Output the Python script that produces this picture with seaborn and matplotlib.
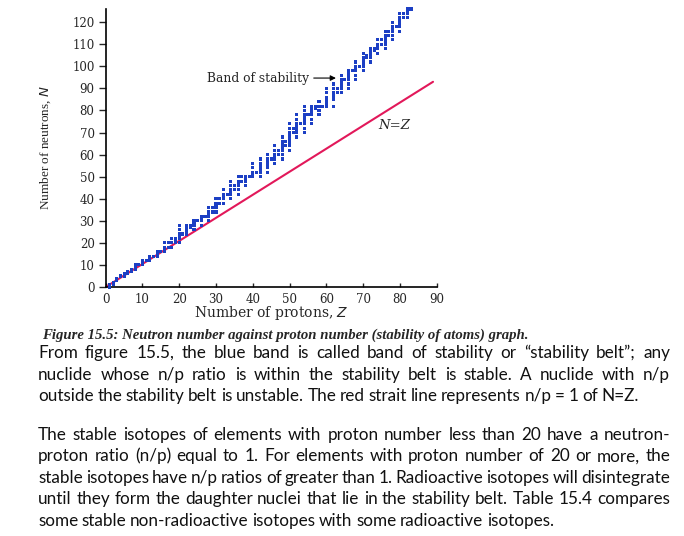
import numpy as np
import pandas as pd
import seaborn as sns
import matplotlib.pyplot as plt

# Stabile nuklider: protontall Z og nøytrontall N lest fra figuren
proton_z = list(range(1, 84))
stable_n = [
    [0, 1], [1, 2], [3, 4], [5], [5, 6], [6, 7], [7, 8], [8, 9, 10], [10], [10, 11, 12],
    [12], [12, 13, 14], [14], [14, 15, 16], [16], [16, 17, 18, 20], [18, 20], [18, 20, 22],
    [20, 21, 22], [20, 22, 23, 24, 26, 28], [24], [24, 25, 26, 27, 28], [27, 28],
    [26, 28, 29, 30], [30], [28, 30, 31, 32], [32], [30, 32, 33, 34, 36], [34, 36],
    [34, 36, 37, 38, 40], [38, 40], [38, 40, 41, 42, 44], [42], [40, 42, 43, 44, 46, 48],
    [44, 46], [42, 44, 46, 47, 48, 50], [48, 50], [46, 48, 49, 50], [50],
    [50, 51, 52, 54, 56], [52], [50, 52, 53, 54, 55, 56, 58], [],
    [52, 54, 55, 56, 57, 58, 60], [58], [56, 58, 59, 60, 62, 64], [60, 62],
    [58, 60, 62, 63, 64, 65, 66, 68], [64, 66], [62, 64, 65, 66, 67, 68, 69, 70, 72, 74],
    [70, 72], [68, 70, 71, 72, 73, 74, 76, 78], [74], [70, 72, 74, 75, 76, 77, 78, 80, 82],
    [78], [74, 76, 78, 79, 80, 81, 82], [81, 82], [78, 80, 82, 84], [82],
    [82, 83, 84, 85, 86, 88, 90], [], [82, 85, 86, 87, 88, 90, 92], [88, 90],
    [88, 90, 91, 92, 93, 94, 96], [94], [90, 92, 94, 95, 96, 97, 98], [98],
    [94, 96, 98, 99, 100, 102], [100], [98, 100, 101, 102, 103, 104, 106], [104, 105],
    [102, 104, 105, 106, 107, 108], [107, 108], [106, 108, 109, 110, 112], [110, 112],
    [108, 110, 111, 112, 113, 114, 116], [114, 116], [112, 114, 116, 117, 118, 120], [118],
    [116, 118, 119, 120, 121, 122, 124], [122, 124], [122, 124, 125, 126], [126],
]

# Linja N=Z slik den er tegnet i figuren
line_z = [0, 89]
line_n = [0, 93]

x_ticks = [0, 10, 20, 30, 40, 50, 60, 70, 80, 90]
y_ticks = [0, 10, 20, 30, 40, 50, 60, 70, 80, 90, 100, 110, 120]

caption = "Figure 15.5: Neutron number against proton number (stability of atoms) graph."
para1 = [
    "From figure 15.5, the blue band is called band of stability or \u201cstability belt\u201d; any",
    "nuclide whose n/p ratio is within the stability belt is stable. A nuclide with n/p",
    "outside the stability belt is unstable. The red strait line represents n/p = 1 of N=Z.",
]
para2 = [
    "The stable isotopes of elements with proton number less than 20 have a neutron-",
    "proton ratio (n/p) equal to 1. For elements with proton number of 20 or more, the",
    "stable isotopes have n/p ratios of greater than 1. Radioactive isotopes will disintegrate",
    "until they form the daughter nuclei that lie in the stability belt. Table 15.4 compares",
    "some stable non-radioactive isotopes with some radioactive isotopes.",
]

rows = [(z, n) for z, ns in zip(proton_z, stable_n) for n in ns]
df = pd.DataFrame(rows, columns=['Z', 'N'])
df_line = pd.DataFrame({'Z': line_z, 'N': line_n})

sns.set_style('ticks')
plt.rcParams['font.family'] = ['DejaVu Serif']

W, H = 684, 536
fig = plt.figure(figsize=(6.84, 5.36), dpi=100)
ax = fig.add_axes([105.7 / W, 1 - 287 / H, 331 / W, 278 / H])

sns.lineplot(data=df_line, x='Z', y='N', color='#e2185a', lw=1.5, ax=ax)
sns.scatterplot(data=df, x='Z', y='N', marker='s', s=5, color='#1c3fc4',
                edgecolor='none', ax=ax, clip_on=False, zorder=3)

ax.set_xlim(0, 90)
ax.set_ylim(0, 126)
ax.set_xticks(x_ticks)
ax.set_yticks(y_ticks)
ax.set_xticklabels([str(t) for t in x_ticks], fontsize=8.5)
ax.set_yticklabels([str(t) for t in y_ticks], fontsize=8.5)
ax.tick_params(axis='x', direction='in', length=3, width=1, pad=4)
ax.tick_params(axis='y', direction='out', length=5, width=1, pad=3)
sns.despine(ax=ax)
for s in ['left', 'bottom']:
    ax.spines[s].set_linewidth(1.2)
    ax.spines[s].set_color('black')

ax.set_xlabel('Number of protons, $\\mathit{Z}$', fontsize=10)
ax.xaxis.set_label_coords(0.5, -0.062)
ax.set_ylabel('Number of neutrons, $\\mathit{N}$', fontsize=9.5,
              family='Liberation Serif')
ax.yaxis.set_label_coords(-0.16, 0.5)

ax.annotate('Band of stability', xy=(62.6, 94.7), xytext=(55.3, 94.7),
            ha='right', va='center', fontsize=8.8,
            arrowprops=dict(arrowstyle='-|>', color='black', lw=0.8,
                            shrinkA=1, shrinkB=0, mutation_scale=8))
ax.text(78.4, 73.4, 'N=Z', ha='center', va='center', fontsize=9.5, style='italic')

# Bildetekst og brødtekst under figuren
fig.text(42 / W, 1 - 339 / H, caption, fontsize=10.6, family='Liberation Serif',
         style='italic', weight='bold', ha='left', va='baseline')

renderer = fig.canvas.get_renderer()


def justified(line, y, last=False, x0=38, x1=670):
    words = line.split(' ')
    texts = [fig.text(0, 1 - y / H, w, fontsize=12.3, family='Lato',
                      ha='left', va='baseline', color='#111111') for w in words]
    widths = [t.get_window_extent(renderer).width for t in texts]
    if last or len(words) == 1:
        gap = 3.6
    else:
        gap = (x1 - x0 - sum(widths)) / (len(words) - 1)
    x = x0
    for t, w in zip(texts, widths):
        t.set_x(x / W)
        x += w + gap


for i, line in enumerate(para1):
    justified(line, 358 + i * 21.6, last=(i == len(para1) - 1))
for i, line in enumerate(para2):
    justified(line, 440 + i * 21.4, last=(i == len(para2) - 1))

fig.savefig('out.png', dpi=100)
